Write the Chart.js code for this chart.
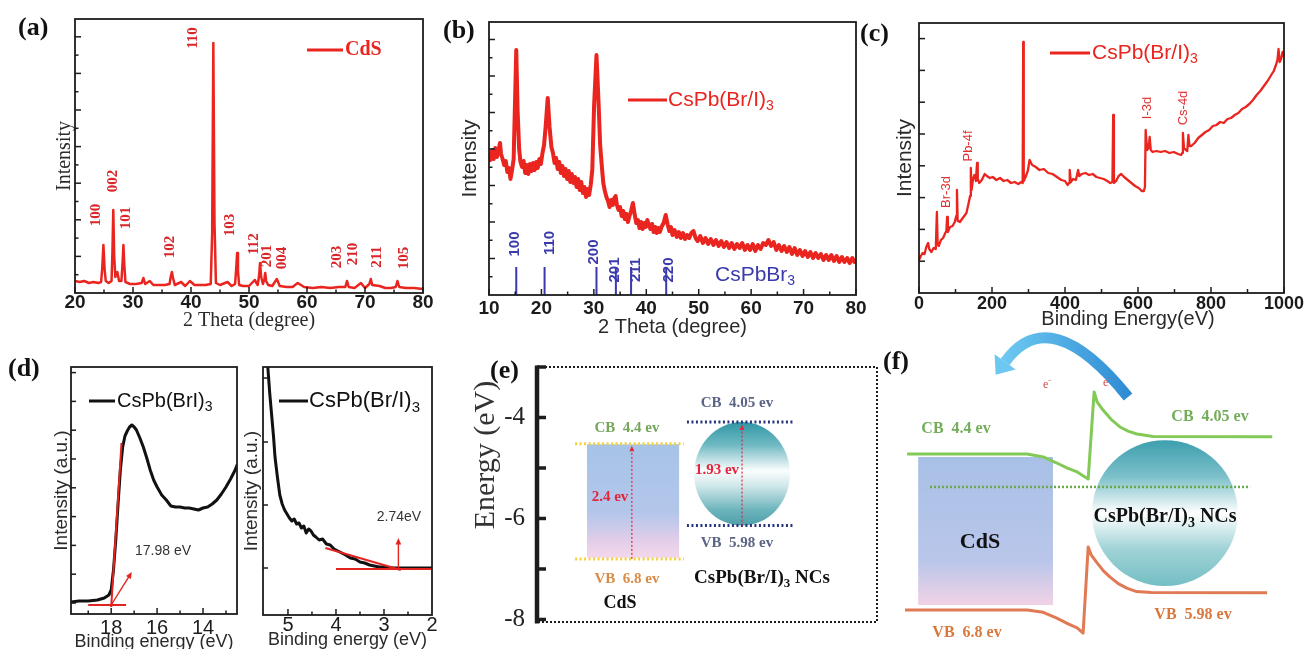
<!DOCTYPE html>
<html>
<head>
<meta charset="utf-8">
<title>CdS / CsPb(Br/I)3 characterisation</title>
<script src="https://cdn.jsdelivr.net/npm/chart.js@4.4.1/dist/chart.umd.min.js"></script>
<style>
  html, body { margin: 0; padding: 0; background: #fff; }
  #fig { position: relative; width: 1304px; height: 649px; overflow: hidden; background: #fff; }
  #fig canvas { position: absolute; }
</style>
</head>
<body>
<div id="fig">
  <canvas id="chartA"></canvas>
  <canvas id="chartB"></canvas>
  <canvas id="chartC"></canvas>
  <canvas id="chartD1"></canvas>
  <canvas id="chartD2"></canvas>
  <canvas id="chartE"></canvas>
  <canvas id="chartF"></canvas>
</div>
<script>
// (a) CdS XRD
const cdsTheta = [
  20, 20.8, 21.6, 22.4, 23.2, 24.0, 24.5, 24.7, 24.9, 25.1,
  25.3, 25.8, 26.3, 26.45, 26.6, 26.75, 26.95, 27.3, 27.6, 28.0,
  28.2, 28.35, 28.5, 28.7, 29.5, 30.5, 31.5, 31.8, 32.1, 32.9,
  33.5, 34.5, 35.5, 36.3, 36.5, 36.7, 36.9, 37.2, 38.3, 39.0,
  39.8, 40.6, 41.5, 42.5, 43.4, 43.65, 43.85, 44.05, 44.3, 45.0,
  46.3, 47.0, 47.6, 47.8, 47.95, 48.1, 48.3, 49.0, 50.0, 51.0,
  51.5, 51.75, 51.9, 52.1, 52.4, 52.65, 52.8, 52.95, 53.3, 54.0,
  54.8, 55.3, 56.5, 57.5, 58.4, 59.5, 61.0, 62.5, 64.0, 65.5,
  66.6, 66.9, 67.2, 68.2, 69.3, 70.0, 70.75, 71.0, 71.25, 72.5,
  73.5, 74.5, 75.3, 75.6, 75.9, 77.0, 78.5, 80.0
];
const cdsCounts = [
  12, 11, 12, 10, 11, 10, 11, 25, 48, 24,
  12, 10, 12, 40, 83, 38, 16, 21, 12, 12,
  30, 48, 28, 11, 9, 9, 10, 15, 9, 12,
  8, 8, 8, 9, 16, 21, 15, 8, 11, 7,
  12, 8, 8, 8, 9, 60, 250, 70, 10, 8,
  11, 7, 9, 25, 40, 22, 8, 7, 7, 13,
  8, 18, 30, 16, 9, 14, 20, 12, 8, 7,
  14, 7, 6, 6, 10, 6, 5, 6, 5, 6,
  6, 12, 6, 5, 10, 5, 9, 14, 8, 7,
  5, 5, 6, 12, 6, 5, 5, 4
];
const cdsPlanes = ['100', '002', '101', '102', '110', '103', '112', '201', '004', '203', '210', '211', '105'];

// (b) CsPb(Br/I)3 XRD and CsPbBr3 reference
const nanoTheta = [
  10.0, 10.3, 10.6, 10.9, 11.2, 11.5, 11.8, 12.1, 12.3, 12.6,
  12.9, 13.2, 13.5, 13.8, 14.1, 14.4, 14.7, 14.95, 15.2, 15.45,
  15.75, 16.0, 16.3, 16.6, 16.9, 17.2, 17.5, 17.8, 18.1, 18.4,
  18.7, 19.0, 19.3, 19.6, 19.9, 20.2, 20.5, 20.8, 21.2, 21.55,
  21.9, 22.2, 22.5, 22.8, 23.1, 23.4, 23.7, 24.0, 24.3, 24.6,
  24.9, 25.2, 25.5, 25.8, 26.1, 26.4, 26.7, 27.0, 27.3, 27.6,
  27.9, 28.2, 28.5, 28.8, 29.1, 29.4, 29.7, 30.05, 30.5, 30.9,
  31.2, 31.5, 31.8, 32.1, 32.4, 32.7, 33.0, 33.3, 33.6, 33.9,
  34.15, 34.4, 34.7, 35.0, 35.3, 35.6, 35.9, 36.2, 36.5, 36.8,
  37.1, 37.45, 37.8, 38.1, 38.4, 38.7, 39.0, 39.3, 39.6, 39.9,
  40.2, 40.5, 40.8, 41.1, 41.4, 41.7, 42.0, 42.3, 42.6, 42.9,
  43.3, 43.7, 44.1, 44.4, 44.7, 45.0, 45.4, 45.8, 46.2, 46.6,
  47.0, 47.4, 47.8, 48.2, 48.6, 49.0, 49.4, 49.8, 50.3, 50.8,
  51.3, 51.8, 52.3, 52.8, 53.3, 53.8, 54.3, 54.8, 55.3, 55.8,
  56.3, 56.8, 57.3, 57.8, 58.3, 58.8, 59.3, 59.8, 60.3, 60.8,
  61.3, 61.8, 62.3, 62.8, 63.3, 63.8, 64.3, 64.8, 65.3, 65.8,
  66.3, 66.8, 67.3, 67.8, 68.3, 68.8, 69.3, 69.8, 70.3, 70.8,
  71.3, 71.8, 72.3, 72.8, 73.3, 73.8, 74.3, 74.8, 75.3, 75.8,
  76.3, 76.8, 77.3, 77.8, 78.3, 78.8, 79.3, 79.7, 80.0
];
const nanoCounts = [
  143, 135, 145, 136, 147, 138, 144, 152, 141, 136,
  130, 134, 123, 127, 116, 125, 136, 190, 245, 185,
  146, 133, 128, 134, 122, 130, 121, 131, 124, 132,
  125, 133, 127, 136, 131, 142, 150, 168, 197, 168,
  148, 142, 132, 137, 126, 133, 122, 129, 119, 126,
  116, 124, 113, 121, 112, 118, 108, 116, 105, 113,
  102, 108, 98, 106, 100, 110, 125, 190, 240, 192,
  150, 130, 112, 104, 98, 94, 88, 95, 90, 97,
  99, 90, 85, 88, 79, 84, 76, 81, 73, 79,
  84, 92, 80, 72, 75, 67, 73, 66, 72, 68,
  75, 70, 66, 71, 63, 68, 62, 67, 63, 68,
  72, 80, 70, 64, 68, 60, 65, 58, 63, 57,
  62, 56, 60, 57, 62, 64, 57, 54, 59, 52,
  57, 51, 56, 50, 55, 49, 54, 48, 53, 47,
  52, 46, 51, 47, 52, 45, 50, 45, 51, 44,
  50, 46, 52, 50, 55, 49, 53, 45, 50, 44,
  49, 43, 48, 41, 47, 40, 45, 39, 44, 38,
  43, 37, 42, 37, 41, 35, 40, 35, 40, 34,
  39, 33, 38, 33, 37, 32, 37, 33, 36
];
const refTheta = [15.2, 20.6, 30.5, 34.2, 37.1, 43.8];
const refHeight = [28, 28, 28, 28, 28, 28];
const refPlanes = ['100', '110', '200', '201', '211', '220'];

// (c) XPS survey
const xpsEnergy = [
  0, 5, 10, 15, 20, 25, 28, 34, 40, 46,
  49, 51, 54, 60, 66, 72, 75, 77, 79, 85,
  92, 98, 102, 104, 106, 112, 118, 124, 130, 136,
  140, 142, 144, 148, 152, 156, 159, 161, 165, 172,
  180, 186, 194, 202, 212, 222, 232, 242, 252, 262,
  272, 280, 284, 285.5, 287, 292, 298, 303, 310, 320,
  330, 342, 354, 366, 378, 390, 400, 407, 411, 413,
  416, 422, 430, 436, 439, 446, 456, 466, 476, 486,
  496, 506, 516, 524, 530, 532, 534, 540, 547, 554,
  562, 572, 582, 592, 602, 610, 616, 619, 621, 625,
  629, 632, 635, 640, 650, 662, 674, 686, 698, 710,
  718, 721, 723, 726, 731, 735, 738, 741, 746, 755,
  765, 775, 785, 795, 805, 815, 825, 835, 845, 855,
  865, 875, 885, 895, 905, 915, 925, 935, 945, 955,
  965, 972, 978, 982, 985, 988, 992, 996, 1000
];
const xpsCounts = [
  33, 37, 40, 39, 46, 50, 44, 41, 45, 44,
  81, 50, 47, 53, 55, 60, 62, 76, 61, 66,
  67, 71, 77, 103, 72, 71, 74, 77, 80, 90,
  97, 125, 103, 114, 118, 112, 130, 114, 110, 113,
  119, 117, 115, 116, 113, 115, 112, 113, 110, 111,
  109, 111, 110, 251, 112, 116, 122, 133, 128, 126,
  123, 124, 120, 119, 116, 113, 112, 108, 110, 123,
  111, 114, 113, 123, 117, 119, 120, 118, 119, 116,
  115, 114, 112, 110, 111, 178, 110, 112, 117, 119,
  116, 113, 110, 107, 105, 102, 102, 106, 163, 143,
  145, 156, 143, 141, 142, 141, 142, 140, 141, 139,
  138, 140, 160, 145, 143, 142, 158, 147, 147, 150,
  155, 158, 161, 163, 167, 168, 171, 170, 174, 175,
  178, 180, 184, 186, 189, 193, 198, 202, 207, 212,
  218, 222, 228, 233, 244, 231, 234, 241, 236
];
const xpsPeaks = ['Br-3d', 'Pb-4f', 'I-3d', 'Cs-4d'];

// (d) UPS cut-off and onset
const cutoffEnergy = [
  19.75, 19.4, 19.0, 18.6, 18.3, 18.1, 18.0, 17.9, 17.8, 17.7,
  17.6, 17.5, 17.4, 17.3, 17.2, 17.1, 17.0, 16.9, 16.75, 16.6,
  16.45, 16.3, 16.15, 16.0, 15.8, 15.6, 15.4, 15.2, 15.0, 14.8,
  14.6, 14.4, 14.2, 14.0, 13.8, 13.6, 13.4, 13.2, 13.0, 12.8,
  12.6, 12.5
];
const cutoffCounts = [
  12, 13, 13, 14, 16, 19, 24, 44, 74, 110,
  144, 167, 178, 183, 187, 189, 187, 184, 176, 167,
  156, 144, 134, 127, 119, 114, 108, 107, 107, 106,
  106, 105, 104, 106, 107, 110, 114, 120, 127, 135,
  144, 150
];
const onsetEnergy = [
  5.47, 5.42, 5.38, 5.34, 5.30, 5.27, 5.22, 5.17, 5.12, 5.07,
  5.02, 4.97, 4.92, 4.87, 4.82, 4.77, 4.72, 4.67, 4.62, 4.57,
  4.52, 4.47, 4.42, 4.35, 4.28, 4.2, 4.12, 4.04, 3.96, 3.88,
  3.8, 3.7, 3.6, 3.5, 3.4, 3.3, 3.2, 3.1, 3.0, 2.8,
  2.6, 2.4, 2.2, 2.0
];
const onsetCounts = [
  262, 248, 222, 200, 178, 158, 138, 120, 111, 105,
  101, 97, 94, 96, 91, 92, 87, 89, 82, 86,
  84, 80, 78, 75, 76, 71, 70, 66, 64, 62,
  60, 57, 56, 53, 52, 50, 49, 48, 48, 47,
  47, 47, 47, 47
];
const cutoffTangent = [[18.0, 7], [17.55, 171]];
const cutoffBase = [[19.0, 9], [17.35, 9]];
const onsetTangent = [[4.22, 67], [2.65, 45]];
const onsetBase = [[4.0, 46], [2.0, 46]];

// (e) band edges as drawn (eV) and their labels
const cdsEdges = [-4.52, -6.8];
const ncEdges = [-4.09, -6.14];
const edgeLabels = ['CB  4.4 ev', 'VB  6.8 ev', 'CB  4.05 ev', 'VB  5.98 ev'];
const gapLabels = ['2.4 ev', '1.93 ev'];

// (f) band bending profiles (schematic distance / potential units)
const cbDist = [6.4, 34.7, 38.5, 41.7, 44.2, 46.5, 49.1, 50.5, 51.2, 52.6, 54.5, 56.6, 58.5, 60.6, 64.4, 92.5];
const cbLevel = [61.1, 61.1, 60.2, 58.3, 56.7, 55.5, 53.3, 80.6, 77.5, 74.9, 72.0, 69.6, 68.3, 67.4, 66.6, 66.5];
const vbDist = [5.9, 34.7, 38.5, 41.7, 44.5, 46.5, 47.9, 49.1, 49.8, 51.2, 52.7, 54.2, 56.2, 58.2, 60.5, 64.0, 91.3];
const vbLevel = [12.2, 12.2, 11.5, 9.7, 7.8, 6.6, 5.0, 32.0, 29.5, 27.0, 24.5, 22.6, 20.5, 19.1, 18.0, 17.7, 17.6];
const fermiDist = [11.8, 87.3];
const fermiLevel = [50.8, 50.8];

// ---------------------------------------------------------------
const SERIF = "'Liberation Serif', 'Times New Roman', serif";
const SANS = "'Liberation Sans', Arial, sans-serif";
const NARROW = "'Liberation Sans Narrow', 'Arial Narrow', 'Liberation Sans', sans-serif";
const RED = '#ea241e';
const BLUE = '#3a3aac';
const extras = {};

function steps(a, b, s) {
  const out = [];
  for (let v = a; v <= b + 1e-9; v += s) out.push(+v.toFixed(3));
  return out;
}
function pts(xs, ys) { return xs.map((x, i) => ({ x: x, y: ys[i] })); }
function pairs(list) { return list.map(p => ({ x: p[0], y: p[1] })); }
function line(data, color, width, dash) {
  return { data: data, showLine: true, borderColor: color, borderWidth: width, pointRadius: 0,
    fill: false, tension: 0, borderDash: dash || [], borderJoinStyle: 'round' };
}
function txt(text, x, y, size, family, color, extra) {
  return Object.assign({ type: 'text', text: text, x: x, y: y, size: size, family: family, color: color }, extra || {});
}

function drawText(ctx, it, x, y) {
  const w0 = it.bold ? 'bold ' : '';
  const big = w0 + it.size + 'px ' + it.family;
  const small = w0 + Math.round(it.size * 0.68) + 'px ' + it.family;
  const parts = [];
  it.text.split(/([_^].)/).forEach(s => {
    if (!s) return;
    if (s.length === 2 && s[0] === '_') parts.push({ t: s[1], dy: it.size * 0.3, f: small });
    else if (s.length === 2 && s[0] === '^') parts.push({ t: s[1], dy: -it.size * 0.35, f: small });
    else parts.push({ t: s, dy: 0, f: big });
  });
  let w = 0;
  parts.forEach(p => { ctx.font = p.f; p.w = ctx.measureText(p.t).width; w += p.w; });
  ctx.save();
  ctx.translate(x, y);
  if (it.rot) ctx.rotate(it.rot * Math.PI / 180);
  ctx.fillStyle = it.color;
  ctx.textBaseline = 'middle';
  ctx.textAlign = 'left';
  let cx = it.align === 'left' ? 0 : it.align === 'right' ? -w : -w / 2;
  parts.forEach(p => { ctx.font = p.f; ctx.fillText(p.t, cx, p.dy); cx += p.w; });
  ctx.restore();
}

function paint(chart, under) {
  const ex = extras[chart.canvas.id];
  if (!ex) return;
  const ctx = chart.ctx, sx = chart.scales.x, sy = chart.scales.y;
  const X = v => sx.getPixelForValue(v), Y = v => sy.getPixelForValue(v);
  ctx.save();
  (ex.items || []).forEach(it => {
    if (!!it.under !== under) return;
    if (it.type === 'text') {
      drawText(ctx, it, it.x - ex.left, it.y - ex.top);
    } else if (it.type === 'key') {
      ctx.strokeStyle = it.color; ctx.lineWidth = it.width;
      ctx.beginPath(); ctx.moveTo(it.x1 - ex.left, it.y - ex.top); ctx.lineTo(it.x2 - ex.left, it.y - ex.top); ctx.stroke();
    } else if (it.type === 'arrow') {
      const x1 = X(it.from[0]), y1 = Y(it.from[1]), x2 = X(it.to[0]), y2 = Y(it.to[1]);
      const ang = Math.atan2(y2 - y1, x2 - x1), h = it.head;
      ctx.strokeStyle = it.color; ctx.fillStyle = it.color; ctx.lineWidth = it.width;
      ctx.setLineDash(it.dash || []);
      ctx.beginPath(); ctx.moveTo(x1, y1);
      ctx.lineTo(x2 - Math.cos(ang) * h * 0.7, y2 - Math.sin(ang) * h * 0.7); ctx.stroke();
      ctx.setLineDash([]);
      ctx.beginPath(); ctx.moveTo(x2, y2);
      ctx.lineTo(x2 - h * Math.cos(ang - 0.42), y2 - h * Math.sin(ang - 0.42));
      ctx.lineTo(x2 - h * Math.cos(ang + 0.42), y2 - h * Math.sin(ang + 0.42));
      ctx.closePath(); ctx.fill();
    } else if (it.type === 'rect') {
      const l = X(it.x0), r = X(it.x1), t = Y(it.y0), b = Y(it.y1);
      const g = ctx.createLinearGradient(0, t, 0, b);
      it.stops.forEach(s => g.addColorStop(s[0], s[1]));
      ctx.fillStyle = g; ctx.fillRect(l, t, r - l, b - t);
    } else if (it.type === 'ellipse') {
      const cx = X(it.cx), cy = Y(it.cy);
      const rx = Math.abs(X(it.cx + it.rx) - cx);
      const ry = it.ry != null ? Math.abs(Y(it.cy + it.ry) - cy) : rx;
      const g = ctx.createLinearGradient(0, cy - ry, 0, cy + ry);
      it.stops.forEach(s => g.addColorStop(s[0], s[1]));
      ctx.fillStyle = g;
      ctx.beginPath(); ctx.ellipse(cx, cy, rx, ry, 0, 0, Math.PI * 2); ctx.fill();
    } else if (it.type === 'bend') {
      const p0 = [X(it.tail[0]), Y(it.tail[1])], c = [X(it.ctrl[0]), Y(it.ctrl[1])], p1 = [X(it.head[0]), Y(it.head[1])];
      const g = ctx.createLinearGradient(p0[0], 0, p1[0], 0);
      g.addColorStop(0, it.colors[0]); g.addColorStop(1, it.colors[1]);
      ctx.strokeStyle = g; ctx.lineWidth = it.width; ctx.lineCap = 'butt';
      ctx.beginPath(); ctx.moveTo(p0[0], p0[1]); ctx.quadraticCurveTo(c[0], c[1], p1[0], p1[1]); ctx.stroke();
      const dx = p1[0] - c[0], dy = p1[1] - c[1], len = Math.hypot(dx, dy), ux = dx / len, uy = dy / len;
      ctx.fillStyle = it.colors[1];
      ctx.beginPath(); ctx.moveTo(p1[0] + ux * it.tip, p1[1] + uy * it.tip);
      ctx.lineTo(p1[0] - uy * it.half, p1[1] + ux * it.half);
      ctx.lineTo(p1[0] + uy * it.half, p1[1] - ux * it.half);
      ctx.closePath(); ctx.fill();
    }
  });
  ctx.restore();
}

function drawFrame(chart) {
  const ex = extras[chart.canvas.id];
  if (!ex || !ex.ticks) return;
  const ctx = chart.ctx, a = chart.chartArea, sc = chart.scales;
  ctx.save();
  ctx.strokeStyle = '#1c1c1c';
  if (ex.bar) {
    ctx.lineWidth = 2; ctx.setLineDash([2, 2]);
    ctx.strokeRect(a.left, a.top, a.right - a.left, a.bottom - a.top);
    ctx.setLineDash([]);
    ctx.lineWidth = 4.5;
    ctx.beginPath(); ctx.moveTo(a.left, a.top - 1.5); ctx.lineTo(a.left, a.bottom + 1.5); ctx.stroke();
  } else {
    ctx.lineWidth = 1.8;
    ctx.strokeRect(a.left, a.top, a.right - a.left, a.bottom - a.top);
  }
  ctx.lineWidth = ex.tickWidth || 1.5;
  ex.ticks.forEach(t => t.at.forEach(v => {
    ctx.beginPath();
    if (t.axis === 'x') {
      const p = sc.x.getPixelForValue(v);
      ctx.moveTo(p, a.bottom); ctx.lineTo(p, a.bottom - t.len);
    } else {
      const p = sc.y.getPixelForValue(v);
      ctx.moveTo(a.left, p); ctx.lineTo(a.left + t.len, p);
    }
    ctx.stroke();
  }));
  ctx.restore();
}

Chart.register({
  id: 'art',
  beforeDatasetsDraw(chart) { paint(chart, true); },
  afterDatasetsDraw(chart) { paint(chart, false); },
  afterDraw(chart) { drawFrame(chart); }
});

function place(id, box) {
  const cv = document.getElementById(id);
  cv.width = box.w; cv.height = box.h;
  cv.style.left = box.left + 'px'; cv.style.top = box.top + 'px';
  return cv;
}

// one framed spectrum: box = canvas on the page, area = plot frame on the page
function spectrum(id, box, area, o) {
  const cv = place(id, box);
  const padLeft = o.yTitle.x - box.left - o.yTitle.size * 0.6;
  const yW = area.l - box.left - padLeft;
  const padBottom = o.xTitle.y ? box.top + box.h - (o.xTitle.y + o.xTitle.size * 0.6) : 0;
  const xH = box.top + box.h - padBottom - area.b;
  extras[id] = { left: box.left, top: box.top, items: o.items, ticks: o.ticks };
  return new Chart(cv, {
    type: 'scatter',
    data: { datasets: o.datasets },
    options: {
      responsive: false, animation: false, events: [],
      layout: { padding: { left: padLeft, top: area.t - box.top, right: box.left + box.w - area.r, bottom: padBottom } },
      plugins: { legend: { display: false }, tooltip: { enabled: false } },
      scales: {
        x: {
          type: 'linear', min: o.xMin, max: o.xMax, reverse: !!o.reverse,
          grid: { display: false, drawTicks: false }, border: { display: false },
          ticks: { stepSize: o.xStep, includeBounds: false, autoSkip: false, maxRotation: 0,
            padding: o.tickPad, color: '#1b1b1b', font: o.tickFont, callback: v => String(v) },
          title: { display: !!o.xTitle.y, text: o.xTitle.text, color: '#2a2a2a', padding: 0,
            font: { family: o.xTitle.family, size: o.xTitle.size } },
          afterFit: s => { s.height = xH; }
        },
        y: {
          type: 'linear', min: 0, max: area.b - area.t,
          grid: { display: false, drawTicks: false }, border: { display: false },
          ticks: { display: false },
          title: { display: true, text: o.yTitle.text, color: '#2a2a2a', padding: 0,
            font: { family: o.yTitle.family, size: o.yTitle.size } },
          afterFit: s => { s.width = yW; }
        }
      }
    }
  });
}

// ---------- (a) ----------
const cdsPlaneAt = [[96, 215], [113, 181], [126, 218], [170, 247], [193, 38], [230, 225], [254, 244],
  [267, 256], [282, 258], [337, 257], [353, 254], [377, 257], [404, 258]];
spectrum('chartA', { left: 0, top: 0, w: 440, h: 334 }, { l: 75, t: 19, r: 423, b: 293 }, {
  xMin: 20, xMax: 80, xStep: 10, tickPad: -2,
  tickFont: { family: NARROW, size: 19, weight: 'bold' },
  xTitle: { text: '2 Theta (degree)', y: 321, size: 20, family: SERIF },
  yTitle: { text: 'Intensity', x: 65, size: 20, family: SERIF },
  datasets: [line(pts(cdsTheta, cdsCounts), RED, 2.5)],
  ticks: [
    { axis: 'x', at: steps(20, 80, 10), len: 6 }, { axis: 'x', at: steps(25, 75, 10), len: 3.5 },
    { axis: 'y', at: steps(36.6, 256.2, 36.6), len: 6 }, { axis: 'y', at: steps(18.3, 237.9, 36.6), len: 3.5 }
  ],
  items: [
    txt('(a)', 18, 28, 26, SERIF, '#111', { bold: true, align: 'left' }),
    { type: 'key', x1: 307, x2: 343, y: 50, color: RED, width: 3 },
    txt('CdS', 345, 50, 20, SERIF, RED, { bold: true, align: 'left' })
  ].concat(cdsPlanes.map((p, i) => txt(p, cdsPlaneAt[i][0], cdsPlaneAt[i][1], 15, SERIF, '#d8262a', { bold: true, rot: -90 })))
});

// ---------- (b) ----------
const refPlaneAt = [[515, 244], [550, 243], [594, 252], [615, 270], [636, 270], [669, 270]];
const refSticks = [];
refTheta.forEach((t, i) => { refSticks.push({ x: t, y: 0 }, { x: t, y: refHeight[i] }, { x: t, y: null }); });
spectrum('chartB', { left: 430, top: 0, w: 440, h: 342 }, { l: 489, t: 22, r: 856, b: 295 }, {
  xMin: 10, xMax: 80, xStep: 10, tickPad: 2,
  tickFont: { family: NARROW, size: 19, weight: 'bold' },
  xTitle: { text: '2 Theta (degree)', y: 327, size: 20, family: SANS },
  yTitle: { text: 'Intensity', x: 470, size: 21, family: SANS },
  datasets: [line(refSticks, BLUE, 2), line(pts(nanoTheta, nanoCounts), RED, 4)],
  ticks: [
    { axis: 'x', at: steps(10, 80, 10), len: 6 }, { axis: 'x', at: steps(15, 75, 10), len: 3.5 },
    { axis: 'y', at: steps(36.5, 255.5, 36.5), len: 6 }, { axis: 'y', at: steps(18.25, 237.25, 36.5), len: 3.5 }
  ],
  items: [
    txt('(b)', 443, 31, 26, SERIF, '#111', { bold: true, align: 'left' }),
    { type: 'key', x1: 628, x2: 667, y: 100, color: RED, width: 3 },
    txt('CsPb(Br/I)_3', 668, 100, 21, SANS, RED, { align: 'left' }),
    txt('CsPbBr_3', 715, 275, 21, SANS, BLUE, { align: 'left' })
  ].concat(refPlanes.map((p, i) => txt(p, refPlaneAt[i][0], refPlaneAt[i][1], 15, SANS, BLUE, { bold: true, rot: -90 })))
});

// ---------- (c) ----------
const xpsPeakAt = [[946, 192], [968, 146], [1147, 108], [1183, 108]];
spectrum('chartC', { left: 855, top: 0, w: 460, h: 334 }, { l: 919, t: 23, r: 1284, b: 293 }, {
  xMin: 0, xMax: 1000, xStep: 200, tickPad: 0,
  tickFont: { family: NARROW, size: 18, weight: 'bold' },
  xTitle: { text: '', y: null, size: 20, family: SANS },
  yTitle: { text: 'Intensity', x: 905, size: 21, family: SANS },
  datasets: [line(pts(xpsEnergy, xpsCounts), RED, 2.3)],
  ticks: [
    { axis: 'x', at: steps(0, 1000, 200), len: 6 }, { axis: 'x', at: steps(100, 900, 200), len: 4 },
    { axis: 'y', at: steps(31.8, 254.4, 31.8), len: 6 }
  ],
  items: [
    txt('(c)', 860, 34, 26, SERIF, '#111', { bold: true, align: 'left' }),
    { type: 'key', x1: 1050, x2: 1090, y: 53, color: RED, width: 3 },
    txt('CsPb(Br/I)_3', 1092, 53, 21, SANS, RED, { align: 'left' }),
    txt('Binding Energy(eV)', 1128, 319, 20, SANS, '#2a2a2a')
  ].concat(xpsPeaks.map((p, i) => txt(p, xpsPeakAt[i][0], xpsPeakAt[i][1], 13, SANS, '#e03030', { rot: -90 })))
});

// ---------- (d) ----------
spectrum('chartD1', { left: 0, top: 340, w: 250, h: 315 }, { l: 71, t: 367, r: 237, b: 614 }, {
  xMin: 12.52, xMax: 19.75, xStep: 2, reverse: true, tickPad: 2,
  tickFont: { family: SANS, size: 20 },
  xTitle: { text: 'Binding energy (eV)', y: 642, size: 18, family: SANS },
  yTitle: { text: 'Intensity (a.u.)', x: 62, size: 19, family: SANS },
  datasets: [
    line(pairs(cutoffTangent), '#e2231f', 2),
    line(pairs(cutoffBase), '#e2231f', 2),
    line(pts(cutoffEnergy, cutoffCounts), '#111', 3)
  ],
  ticks: [
    { axis: 'x', at: [14, 16, 18], len: 6 }, { axis: 'x', at: [13, 15, 17, 19], len: 3.5 },
    { axis: 'y', at: steps(11, 241.4, 28.8), len: 5 }
  ],
  items: [
    txt('(d)', 8, 369, 26, SERIF, '#111', { bold: true, align: 'left' }),
    { type: 'key', x1: 89, x2: 115, y: 401, color: '#111', width: 3 },
    txt('CsPb(BrI)_3', 117, 401, 20, SANS, '#111', { align: 'left' }),
    txt('17.98 eV', 163, 551, 14, SANS, '#333'),
    { type: 'arrow', from: [18.0, 9], to: [17.1, 42], color: '#e2231f', width: 1.4, head: 7 }
  ]
});

spectrum('chartD2', { left: 240, top: 340, w: 205, h: 315 }, { l: 263, t: 367, r: 432, b: 615 }, {
  xMin: 2.0, xMax: 5.52, xStep: 1, reverse: true, tickPad: -2,
  tickFont: { family: SANS, size: 20 },
  xTitle: { text: 'Binding energy (eV)', y: 640, size: 18, family: SANS },
  yTitle: { text: 'Intensity (a.u.)', x: 252, size: 19, family: SANS },
  datasets: [
    line(pairs(onsetTangent), '#e2231f', 2),
    line(pairs(onsetBase), '#e2231f', 2),
    line(pts(onsetEnergy, onsetCounts), '#111', 3)
  ],
  ticks: [
    { axis: 'x', at: [5, 4, 3], len: 6 }, { axis: 'x', at: [4.5, 3.5, 2.5], len: 3.5 },
    { axis: 'y', at: [47, 110, 173, 237], len: 5 }
  ],
  items: [
    { type: 'key', x1: 279, x2: 308, y: 401, color: '#111', width: 3 },
    txt('CsPb(Br/I)_3', 309, 401, 22, SANS, '#111', { align: 'left' }),
    txt('2.74eV', 399, 517, 14, SANS, '#333'),
    { type: 'arrow', from: [2.7, 46], to: [2.7, 77], color: '#e2231f', width: 1.4, head: 7 }
  ]
});

// ---------- (e) energy level diagram ----------
(function () {
  const box = { left: 455, top: 340, w: 425, h: 309 };
  const cv = place('chartE', box);
  const ncMid = (ncEdges[0] + ncEdges[1]) / 2, ncHalf = (ncEdges[0] - ncEdges[1]) / 2;
  const GREEN = '#74a65c', ORANGE = '#d98c48', SLATE = '#5b6584', GAP = '#e3263e';
  extras.chartE = {
    left: box.left, top: box.top, bar: true, tickWidth: 3.5,
    ticks: [{ axis: 'y', at: [-3, -4, -5, -6, -7, -8], len: 9 }],
    items: [
      { type: 'rect', under: true, x0: 14.7, x1: 41.8, y0: cdsEdges[0] - 0.01, y1: cdsEdges[1] + 0.02,
        stops: [[0, '#a7c3e8'], [0.6, '#b3c6ea'], [0.85, '#e2cde9'], [1, '#f4d8ec']] },
      { type: 'ellipse', under: true, cx: 60.3, cy: ncMid, rx: 14.1, ry: ncHalf,
        stops: [[0, '#2f97a4'], [0.22, '#6fb9c2'], [0.47, '#fbfdfd'], [0.62, '#cfe7e9'], [0.85, '#6db4bc'], [1, '#4e9fa9']] },
      { type: 'arrow', from: [27.9, cdsEdges[1]], to: [27.9, cdsEdges[0] - 0.04], color: GAP, width: 1.2, head: 6, dash: [2, 2] },
      { type: 'arrow', from: [60.3, ncEdges[1]], to: [60.3, ncEdges[0] - 0.05], color: GAP, width: 1.2, head: 6, dash: [2, 2] },
      txt('(e)', 490, 371, 26, SERIF, '#111', { bold: true, align: 'left' }),
      txt('Energy (eV)', 486, 455, 30, SERIF, '#333', { rot: -90 }),
      txt(edgeLabels[0], 627, 428, 15, SERIF, GREEN, { bold: true }),
      txt(edgeLabels[1], 627, 579, 15, SERIF, ORANGE, { bold: true }),
      txt('CdS', 620, 603, 18, SERIF, '#111', { bold: true }),
      txt(gapLabels[0], 610, 497, 15, SERIF, GAP, { bold: true }),
      txt(edgeLabels[2], 737, 403, 15, SERIF, SLATE, { bold: true }),
      txt(edgeLabels[3], 737, 543, 15, SERIF, SLATE, { bold: true }),
      txt(gapLabels[1], 717, 470, 15, SERIF, GAP, { bold: true }),
      txt('CsPb(Br/I)_3 NCs', 762, 578, 19, SERIF, '#111', { bold: true })
    ]
  };
  new Chart(cv, {
    type: 'scatter',
    data: {
      datasets: [
        line(pts([11.2, 43.2], [cdsEdges[0], cdsEdges[0]]), '#f2d23c', 3, [2, 2.5]),
        line(pts([11.2, 43.2], [cdsEdges[1], cdsEdges[1]]), '#f2d23c', 3, [2, 2.5]),
        line(pts([44.1, 75.3], [ncEdges[0], ncEdges[0]]), '#25347c', 3, [2, 2.5]),
        line(pts([44.1, 75.3], [ncEdges[1], ncEdges[1]]), '#25347c', 3, [2, 2.5])
      ]
    },
    options: {
      responsive: false, animation: false, events: [],
      layout: { padding: { left: 0, top: 12, right: 3, bottom: 14 } },
      plugins: { legend: { display: false }, tooltip: { enabled: false } },
      scales: {
        x: { type: 'linear', display: false, min: 0, max: 100 },
        y: {
          type: 'linear', min: -8.05, max: -3.0,
          grid: { display: false, drawTicks: false }, border: { display: false },
          ticks: { stepSize: 2, includeBounds: false, padding: 12, color: '#222',
            font: { family: SERIF, size: 25 }, callback: v => String(v) },
          afterFit: s => { s.width = 82; }
        }
      }
    }
  });
})();

// ---------- (f) band bending scheme ----------
(function () {
  const box = { left: 874, top: 330, w: 430, h: 319 };
  const cv = place('chartF', box);
  const GREEN = '#74ad5a', ORANGE = '#d9783c';
  extras.chartF = {
    left: box.left, top: box.top,
    items: [
      { type: 'rect', under: true, x0: 9.0, x1: 40.8, y0: 60.2, y1: 13.8,
        stops: [[0, '#a9c0e6'], [0.7, '#b9c6ea'], [1, '#f1d2e6']] },
      { type: 'ellipse', under: true, cx: 67.2, cy: 42.6, rx: 17.2,
        stops: [[0, '#3d9fae'], [0.25, '#7cc0ca'], [0.5, '#ffffff'], [0.75, '#9fd2d6'], [1, '#74bec4']] },
      { type: 'bend', tail: [58.5, 79.0], ctrl: [40.1, 109.4], head: [29.5, 90.0], width: 11, tip: 16, half: 13,
        colors: ['#2f8cd4', '#6cc8f0'] },
      txt('(f)', 883, 362, 26, SERIF, '#111', { bold: true, align: 'left' }),
      txt(edgeLabels[0], 956, 429, 16, SERIF, GREEN, { bold: true }),
      txt(edgeLabels[2], 1210, 417, 16, SERIF, GREEN, { bold: true }),
      txt(edgeLabels[1], 967, 633, 16, SERIF, ORANGE, { bold: true }),
      txt(edgeLabels[3], 1193, 615, 16, SERIF, ORANGE, { bold: true }),
      txt('CdS', 980, 542, 22, SERIF, '#111', { bold: true }),
      txt('CsPb(Br/I)_3 NCs', 1165, 517, 20, SERIF, '#111', { bold: true }),
      txt('e^-', 1047, 385, 12, SERIF, '#d44a4a'),
      txt('e^-', 1107, 383, 12, SERIF, '#d44a4a')
    ]
  };
  new Chart(cv, {
    type: 'scatter',
    data: {
      datasets: [
        line(pts(fermiDist, fermiLevel), '#6aa84a', 2.5, [2, 2]),
        line(pts(cbDist, cbLevel), '#82c957', 3),
        line(pts(vbDist, vbLevel), '#e07a55', 3)
      ]
    },
    options: {
      responsive: false, animation: false, events: [],
      layout: { padding: 0 },
      plugins: { legend: { display: false }, tooltip: { enabled: false } },
      scales: {
        x: { type: 'linear', display: false, min: -1.415, max: 100 },
        y: { type: 'linear', display: false, min: 0, max: 100 }
      }
    }
  });
})();
</script>
</body>
</html>
